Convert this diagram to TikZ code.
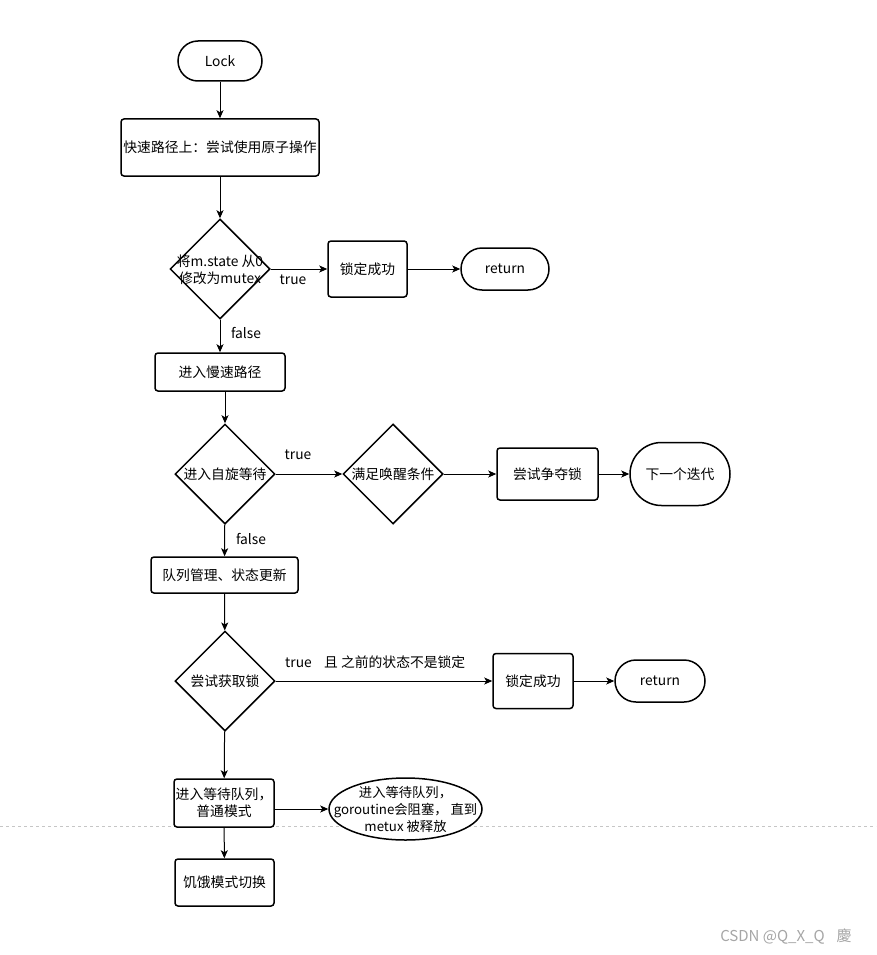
\documentclass[tikz,border=0pt]{standalone}
\usepackage{fontspec}
\setmainfont{Noto Sans CJK SC}
\usetikzlibrary{shapes.geometric,arrows.meta}
\begin{document}
\begin{tikzpicture}[x=1pt,y=-1pt,
  every node/.style={font=\fontsize{13.8}{17}\selectfont, align=center, text=black},
  box/.style={draw, line width=1.5pt, rounded corners=3pt, fill=white, inner sep=0pt},
  term/.style={draw, line width=1.5pt, fill=white, inner sep=0pt},
  dia/.style={draw, diamond, line width=1.5pt, minimum width=100pt, minimum height=100pt, inner sep=0pt, fill=white},
  arr/.style={-{Stealth[length=8pt,width=7pt,inset=2pt]}, line width=1pt},
  lbl/.style={inner sep=0pt}
]
\fill[white] (0,0) rectangle (876,955);
\useasboundingbox (0,0) rectangle (876,955);
\draw[gray!45, dash pattern=on 3pt off 3pt, line width=0.8pt] (0,826) -- (876,826);

\node[term, rounded corners=20pt, minimum width=84pt, minimum height=40pt] (lock) at (220,61) {Lock};
\node[box, minimum width=198pt, minimum height=57pt] (b1) at (220,147.5) {快速路径上：尝试使用原子操作};
\node[dia] (d1) at (220,269) {};
\node[lbl] (d1t) at (220,269.5) {将m.state 从0\\修改为mutex};
\node[box, minimum width=79pt, minimum height=56pt] (ok1) at (367.5,269) {锁定成功};
\node[term, rounded corners=21pt, minimum width=88pt, minimum height=42pt] (ret1) at (505,269) {return};

\node[box, minimum width=130pt, minimum height=38pt] (slow) at (220,372) {进入慢速路径};
\node[dia] (d2) at (225,474) {};
\node[lbl] (d2t) at (225,474) {进入自旋等待};
\node[dia] (d3) at (393,474) {};
\node[lbl] (d3t) at (393,474) {满足唤醒条件};
\node[box, minimum width=101pt, minimum height=52pt] (try) at (547.5,474) {尝试争夺锁};
\node[term, rounded corners=31.5pt, minimum width=100pt, minimum height=63pt] (next) at (680,474) {下一个迭代};

\node[box, minimum width=147pt, minimum height=36pt] (queue) at (224.5,575) {队列管理、状态更新};
\node[dia] (d4) at (225,681) {};
\node[lbl] (d4t) at (225,681) {尝试获取锁};
\node[box, minimum width=80pt, minimum height=55pt] (ok2) at (533,681) {锁定成功};
\node[term, rounded corners=21pt, minimum width=90pt, minimum height=42pt] (ret2) at (660,681) {return};

\node[box, minimum width=100pt, minimum height=48pt] (wq) at (224,803) {进入等待队列，\\普通模式};
\node[draw, ellipse, line width=1.5pt, fill=white, minimum width=153pt, minimum height=62pt, inner sep=0pt] (ell) at (405.5,809) {};
\node[lbl, font=\fontsize{13.3}{17}\selectfont] (ellt) at (405.5,809) {进入等待队列，\\goroutine会阻塞， 直到\\metux 被释放};
\node[box, minimum width=99pt, minimum height=47pt] (starv) at (224.5,882.5) {饥饿模式切换};

\draw[arr] (lock) -- (b1);
\draw[arr] (b1) -- (d1);
\draw[arr] (d1) -- (ok1);
\draw[arr] (ok1) -- (ret1);
\draw[arr] (d1) -- (slow);
\draw[arr] (slow.south -| d2.north) -- (d2.north);
\draw[arr] (d2) -- (d3);
\draw[arr] (d3) -- (try);
\draw[arr] (try) -- (next);
\draw[arr] (d2) -- (queue);
\draw[arr] (queue) -- (d4);
\draw[arr] (d4) -- (ok2);
\draw[arr] (ok2) -- (ret2);
\draw[arr] (d4) -- (wq);
\draw[arr] (wq.east |- ell.west) -- (ell.west);
\draw[arr] (wq) -- (starv);

\node[lbl] (t1) at (293,280) {true};
\node[lbl] (f1) at (246,333) {false};
\node[lbl] (t2) at (298,455) {true};
\node[lbl] (f2) at (251,539) {false};
\node[lbl, anchor=west] (t3) at (285,662) {true\hspace{0.9em}且 之前的状态不是锁定};

\node[lbl, text=gray!70, font=\fontsize{15}{18}\selectfont] (wm) at (786,937) {CSDN @Q\_X\_Q\hspace{0.8em}慶};
\end{tikzpicture}
\end{document}
